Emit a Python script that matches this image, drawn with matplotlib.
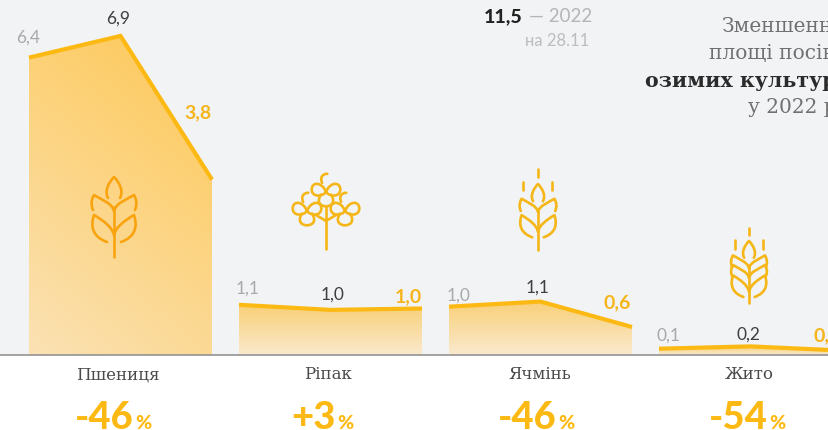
import numpy as np
import matplotlib
matplotlib.use('Agg')
import matplotlib.pyplot as plt
from matplotlib.patches import PathPatch, Polygon
from matplotlib.path import Path

# Data, mln ha
crops = ['Пшениця', 'Ріпак', 'Ячмінь', 'Жито']
values_2020 = [6.43, 1.08, 1.04, 0.13]
values_2021 = [6.90, 0.97, 1.15, 0.18]
values_2022 = [3.79, 1.00, 0.60, 0.09]
labels_2020 = ['6,4', '1,1', '1,0', '0,1']
labels_2021 = ['6,9', '1,0', '1,1', '0,2']
labels_2022 = ['3,8', '1,0', '0,6', '0,1']
changes = ['-46', '+3', '-46', '-54']

YELLOW = '#fdb913'
BG = '#f1f3f5'
W, H = 829, 431
BASE = 355.7
PX_PER_UNIT = 46.2
PANEL_W = 183
panel_x = [29, 239, 449, 659]

fig = plt.figure(figsize=(W / 100, H / 100), dpi=100, facecolor='white')

# chart axes: x in pixels, y in data units
ax = fig.add_axes([0, 0, 1, 1])
ax.set_xlim(0, W)
ax.set_ylim(-(H - BASE) / PX_PER_UNIT, BASE / PX_PER_UNIT)
ax.axis('off')

# overlay in pixel coordinates for text and icons
ov = fig.add_axes([0, 0, 1, 1])
ov.set_xlim(0, W)
ov.set_ylim(H, 0)
ov.axis('off')
ov.patch.set_alpha(0)

ax.axhspan(0, BASE / PX_PER_UNIT, color=BG, lw=0, zorder=0)

for i, x0 in enumerate(panel_x):
    xs = [x0, x0 + PANEL_W / 2, x0 + PANEL_W]
    ys = [values_2020[i], values_2021[i], values_2022[i]]
    top = max(ys)

    # gradient fill, diagonal for the tall wheat panel, vertical for others
    gy, gx = np.mgrid[0:1:100j, 0:1:100j]
    if i == 0:
        t = 0.75 * gy + 0.35 * (1 - gx) - 0.1
        c0, c1 = np.array([253, 202, 94]), np.array([251, 226, 180])
    else:
        t = gy
        c0, c1 = np.array([248, 208, 120]), np.array([250, 233, 205])
    t = np.clip(t, 0, 1)[..., None]
    img = (c0 + (c1 - c0) * t) / 255
    im = ax.imshow(img, extent=[x0, x0 + PANEL_W, 0, top], origin='upper',
                   aspect='auto', zorder=1, interpolation='bilinear')
    poly = Polygon([(x0, 0)] + list(zip(xs, ys)) + [(x0 + PANEL_W, 0)],
                   closed=True, transform=ax.transData, fc='none', ec='none')
    ax.add_patch(poly)
    im.set_clip_path(poly)

    ax.plot(xs, ys, color=YELLOW, lw=3.0, solid_capstyle='butt',
            solid_joinstyle='miter', zorder=3)

ax.set_xlim(0, W)
ax.set_ylim(-(H - BASE) / PX_PER_UNIT, BASE / PX_PER_UNIT)
ax.axhline(0, color='#8a8a8a', lw=1.1, zorder=4)

# value labels
pos_2020 = [(28, 38), (248, 289), (459, 296), (668, 336)]
pos_2021 = [(118, 19), (333, 295), (538, 288), (748, 335)]
pos_2022 = [(198, 113), (408, 297), (617, 303), (827, 336)]
for i in range(4):
    ov.text(*pos_2020[i], labels_2020[i], family='Lato', fontsize=12.5, color='#a9a9a9',
            ha='center', va='center')
    ov.text(*pos_2021[i], labels_2021[i], family='Lato', fontsize=12.5, color='#3f3f3f',
            ha='center', va='center')
    ov.text(*pos_2022[i], labels_2022[i], family='Lato', fontsize=14, color='#f7b51c',
            fontweight='bold', ha='center', va='center')

# crop names and percent changes
name_x = [118, 328, 539.5, 749]
pct_x = [152, 354, 575, 786]
for i in range(4):
    ov.text(name_x[i], 375, crops[i], family='DejaVu Serif', fontsize=12, color='#4a4a4a',
            ha='center', va='center')
    ov.text(pct_x[i] - 18, 429, changes[i], family='Lato', fontsize=27.5, fontweight='black',
            color=YELLOW, ha='right', va='baseline')
    ov.text(pct_x[i], 429, '%', family='Lato', fontsize=14, fontweight='black',
            color=YELLOW, ha='right', va='baseline')

# 11,5 note
ov.text(523, 17, '11,5', family='Lato', fontsize=14, fontweight='black', color='#222222',
        ha='right', va='center')
ov.text(592, 17, '— 2022', family='Lato', fontsize=13.5, color='#b5b5b5',
        ha='right', va='center')
ov.text(589, 41, 'на 28.11', family='Lato', fontsize=12, color='#bdbdbd',
        ha='right', va='center')

# title, runs off the right edge as in the source
ov.text(722, 27, 'Зменшення', family='DejaVu Serif', fontsize=14.5, color='#707070',
        va='center', clip_on=True)
ov.text(709, 54, 'площі посівів', family='DejaVu Serif', fontsize=14.5, color='#707070',
        va='center', clip_on=True)
ov.text(645, 81, 'озимих культур', family='DejaVu Serif', fontsize=14.8, fontweight='bold',
        color='#2b2b2b', va='center', clip_on=True)
ov.text(748, 108, 'у 2022 році', family='DejaVu Serif', fontsize=14.5, color='#707070',
        va='center', clip_on=True)


def stroke(verts, codes, color, lw=1.9):
    ov.add_patch(PathPatch(Path(verts, codes), fc='none', ec=color, lw=lw, capstyle='round',
                           joinstyle='round', zorder=6))


def curve(points, color, cx=0, cy=0, s=1.0, flip=False, lw=1.9):
    # points: start followed by triples of cubic bezier controls
    sign = -1 if flip else 1
    verts = [(cx + sign * s * px, cy + s * py) for px, py in points]
    codes = [Path.MOVETO] + [Path.CURVE4] * (len(points) - 1)
    stroke(verts, codes, color, lw)


def line(x1, y1, x2, y2, color, lw=1.9):
    stroke([(x1, y1), (x2, y2)], [Path.MOVETO, Path.LINETO], color, lw)


def wheat(cx, top, s, color, pairs=2):
    curve([(-6, 21), (-10, 14), (-5, 5), (0, 0), (5, 5), (10, 14), (6, 21)], color, cx, top, s)
    for flip in (False, True):
        curve([(0, 34), (2, 26), (12, 23), (20, 18), (23, 23), (23, 28), (21, 33)],
              color, cx, top, s, flip)
        if pairs == 3:
            curve([(0, 46), (2, 38), (12, 35), (20, 30), (23, 35), (23, 40), (21, 44)],
                  color, cx, top, s, flip)
        shift = 5 if pairs == 3 else 0
        curve([(0, 58 + shift), (2, 50 + shift), (10, 44 + shift), (20, 38 + shift),
               (24, 50 + shift), (21, 60 + shift), (7, 65 + shift)], color, cx, top, s, flip)
    line(cx, top + 30 * s, cx, top + (80 if pairs == 2 else 78) * s, color)


def flower(cx, cy, color, s=1.3):
    curve([(0, 0), (-3, -8), (-11, -8), (-11, -2), (-11, 4), (-3, 4), (0, 0)], color, cx, cy, s)
    curve([(0, 0), (3, -8), (11, -8), (11, -2), (11, 4), (3, 4), (0, 0)], color, cx, cy, s)
    curve([(-4, 2), (-8, 9), (-3, 11), (0, 11), (3, 11), (8, 9), (4, 2)], color, cx, cy, s)
    curve([(-3, -7), (-5, -12), (-2, -14), (1, -14)], color, cx, cy, s)


ICON = '#f5b617'
wheat(114, 178, 1.0, '#f9a30f')

flower(326, 193, ICON)
flower(307, 212, ICON)
flower(345, 212, ICON)
line(326, 207, 326, 250, ICON)
line(326, 222, 316, 216, ICON)
line(326, 222, 336, 216, ICON)

wheat(538, 185, 0.82, ICON)
line(538, 170, 538, 178, ICON)
for dx in (-14.5, 14.5):
    line(538 + dx, 183, 538 + dx, 191, ICON)

wheat(749, 242, 0.8, ICON, pairs=3)
line(749, 229, 749, 236, ICON)
for dx in (-14, 14):
    line(749 + dx, 241, 749 + dx, 250, ICON)

fig.savefig('out.png', dpi=100, facecolor='white')
